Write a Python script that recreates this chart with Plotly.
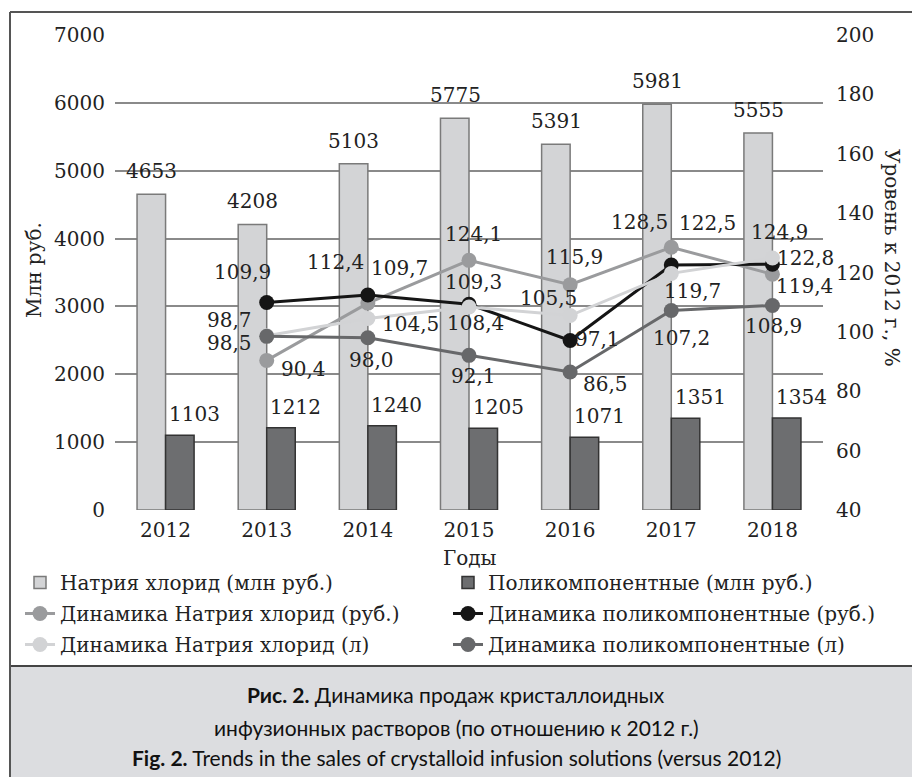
import plotly.graph_objects as go

# ---------------- data ----------------
years = ["2012", "2013", "2014", "2015", "2016", "2017", "2018"]
nacl_mln = [4653, 4208, 5103, 5775, 5391, 5981, 5555]
poly_mln = [1103, 1212, 1240, 1205, 1071, 1351, 1354]

line_years = ["2013", "2014", "2015", "2016", "2017", "2018"]
nacl_rub = [90.4, 109.7, 124.1, 115.9, 128.5, 119.4]
poly_rub = [109.9, 112.4, 109.3, 97.1, 122.5, 122.8]
nacl_l = [98.7, 104.5, 108.4, 105.5, 119.7, 124.9]
poly_l = [98.5, 98.0, 92.1, 86.5, 107.2, 108.9]

names = [
    "Натрия хлорид (млн руб.)",
    "Поликомпонентные (млн руб.)",
    "Динамика Натрия хлорид (руб.)",
    "Динамика поликомпонентные (руб.)",
    "Динамика Натрия хлорид (л)",
    "Динамика поликомпонентные (л)",
]

# label offsets in pixels (dx right, dy down) - style only
off_nacl_rub = [(37, 9), (32, -35), (4, -26), (4, -28), (-32, -25), (32, 12)]
off_poly_rub = [(-24, -30), (-32, -33), (4, -22), (27, -1), (36, -42), (33, -6)]
off_nacl_l = [(-37, -16), (43, 5), (6, 16), (-22, -18), (21, 18), (7, -26)]
off_poly_l = [(-37, 7), (4, 22), (4, 21), (35, 12), (10, 27), (1, 21)]

SERIF = "DejaVu Serif"
CAP = "Lato"
FS = 20

# layout geometry
L, R, T, B = 115, 89, 35, 267
W, H = 912, 777
PW, PH = W - L - R, H - T - B


def px(X):
    return (X - L) / PW


def py(Y):
    return (T + PH - Y) / PH


def cat_index(yr):
    return years.index(yr)


fig = go.Figure()
fig.add_trace(go.Bar(x=years, y=nacl_mln, name=names[0], legend="legend", legendgroup="g0",
                     marker=dict(color="#d3d4d6", line=dict(color="#7a7a7a", width=1.5))))
fig.add_trace(go.Bar(x=years, y=poly_mln, name=names[1], legend="legend2", legendgroup="g1",
                     marker=dict(color="#6d6e70", line=dict(color="#333333", width=1.5))))

line_specs = [
    (nacl_rub, "#9a9b9d", names[2], off_nacl_rub, "legend"),
    (poly_rub, "#151515", names[3], off_poly_rub, "legend2"),
    (nacl_l, "#d2d3d5", names[4], off_nacl_l, "legend"),
    (poly_l, "#67686a", names[5], off_poly_l, "legend2"),
]
for i, (vals, col, nm, _, lg) in enumerate(line_specs):
    fig.add_trace(go.Scatter(x=line_years, y=vals, name=nm, yaxis="y2",
                             legend=lg, legendgroup=f"g{i + 2}",
                             mode="lines+markers",
                             line=dict(color=col, width=3),
                             marker=dict(color=col, size=15)))

annotations = []
# bar labels
for yr, v in zip(years, nacl_mln):
    annotations.append(dict(x=cat_index(yr), y=v, xref="x", yref="y", text=str(v), showarrow=False,
                            xanchor="center", yanchor="middle",
                            xshift=-14, yshift=23, font=dict(family=SERIF, size=FS, color="#222")))
for yr, v in zip(years, poly_mln):
    annotations.append(dict(x=cat_index(yr), y=v, xref="x", yref="y", text=str(v), showarrow=False,
                            xanchor="center", yanchor="middle",
                            xshift=29, yshift=21, font=dict(family=SERIF, size=FS, color="#222")))
# line labels
for vals, col, nm, offs, _ in line_specs:
    for yr, v, (dx, dy) in zip(line_years, vals, offs):
        annotations.append(dict(x=cat_index(yr), y=v, xref="x", yref="y2",
                                text=f"{v:.1f}".replace(".", ","), showarrow=False,
                                xanchor="center", yanchor="middle",
                                xshift=dx, yshift=-dy,
                                font=dict(family=SERIF, size=FS, color="#222")))

# axis titles
annotations.append(dict(x=px(34), y=py(270), xref="paper", yref="paper", text="Млн руб.",
                        xanchor="center", yanchor="middle",
                        showarrow=False, textangle=-90, font=dict(family=SERIF, size=FS, color="#222")))
annotations.append(dict(x=px(892), y=py(258), xref="paper", yref="paper", text="Уровень к 2012 г., %",
                        xanchor="center", yanchor="middle",
                        showarrow=False, textangle=90, font=dict(family=SERIF, size=FS, color="#222")))
annotations.append(dict(x=px(470), y=py(558), xref="paper", yref="paper", text="Годы",
                        xanchor="center", yanchor="middle",
                        showarrow=False, font=dict(family=SERIF, size=FS, color="#222")))

# caption
cap_lines = [
    "<b>Рис. 2.</b> Динамика продаж кристаллоидных",
    "инфузионных растворов (по отношению к 2012 г.)",
    "<b>Fig. 2.</b> Trends in the sales of crystalloid infusion solutions (versus 2012)",
]
cap_sizes = [21, 21, 21]
for txt, yy, fsz in zip(cap_lines, [695, 727, 757], cap_sizes):
    annotations.append(dict(x=px(456), y=py(yy), xref="paper", yref="paper", text=txt,
                            xanchor="center", yanchor="middle",
                            showarrow=False, font=dict(family=CAP, size=fsz, color="#111")))

shapes = [
    dict(type="rect", xref="paper", yref="paper", x0=px(10), x1=px(920), y0=py(790), y1=py(666),
         fillcolor="#dcdde0", line=dict(color="#444", width=2), layer="below"),
    dict(type="line", xref="paper", yref="paper", x0=px(10), x1=px(10), y0=py(12), y1=py(790),
         line=dict(color="#555", width=2)),
    dict(type="line", xref="paper", yref="paper", x0=px(10), x1=px(920), y0=py(12), y1=py(12),
         line=dict(color="#555", width=2)),
]

legend_common = dict(orientation="v", xanchor="left", yanchor="top",
                     traceorder="grouped", tracegroupgap=2,
                     font=dict(family=SERIF, size=FS, color="#222"), bgcolor="rgba(0,0,0,0)")

fig.update_layout(
    width=W, height=H,
    margin=dict(l=L, r=R, t=T, b=B, pad=0),
    paper_bgcolor="white", plot_bgcolor="white",
    barmode="group", bargap=0.436, bargroupgap=0,
    font=dict(family=SERIF, size=FS, color="#222"),
    xaxis=dict(type="category", range=[-0.5, len(years) - 0.5], autorange=False,
               showgrid=False, zeroline=False, showline=False, ticks="",
               tickfont=dict(family=SERIF, size=FS), ticklabelstandoff=6),
    yaxis=dict(range=[0, 7000], autorange=False, dtick=1000, showgrid=True, gridcolor="#8a8a8a",
               gridwidth=1.5, zeroline=False, showline=False, ticks="", ticklabelstandoff=9,
               tickfont=dict(family=SERIF, size=FS)),
    yaxis2=dict(range=[40, 200], autorange=False, dtick=20, overlaying="y", side="right",
                showgrid=False, zeroline=False, showline=False, ticks="", ticklabelstandoff=12,
                tickfont=dict(family=SERIF, size=FS)),
    legend=dict(x=px(20), y=py(563), **legend_common),
    legend2=dict(x=px(448), y=py(563), **legend_common),
    annotations=annotations,
    shapes=shapes,
    showlegend=True,
)

fig.write_html("out.html", post_script="document.body.style.margin='0px';",
               config={"displayModeBar": False})
